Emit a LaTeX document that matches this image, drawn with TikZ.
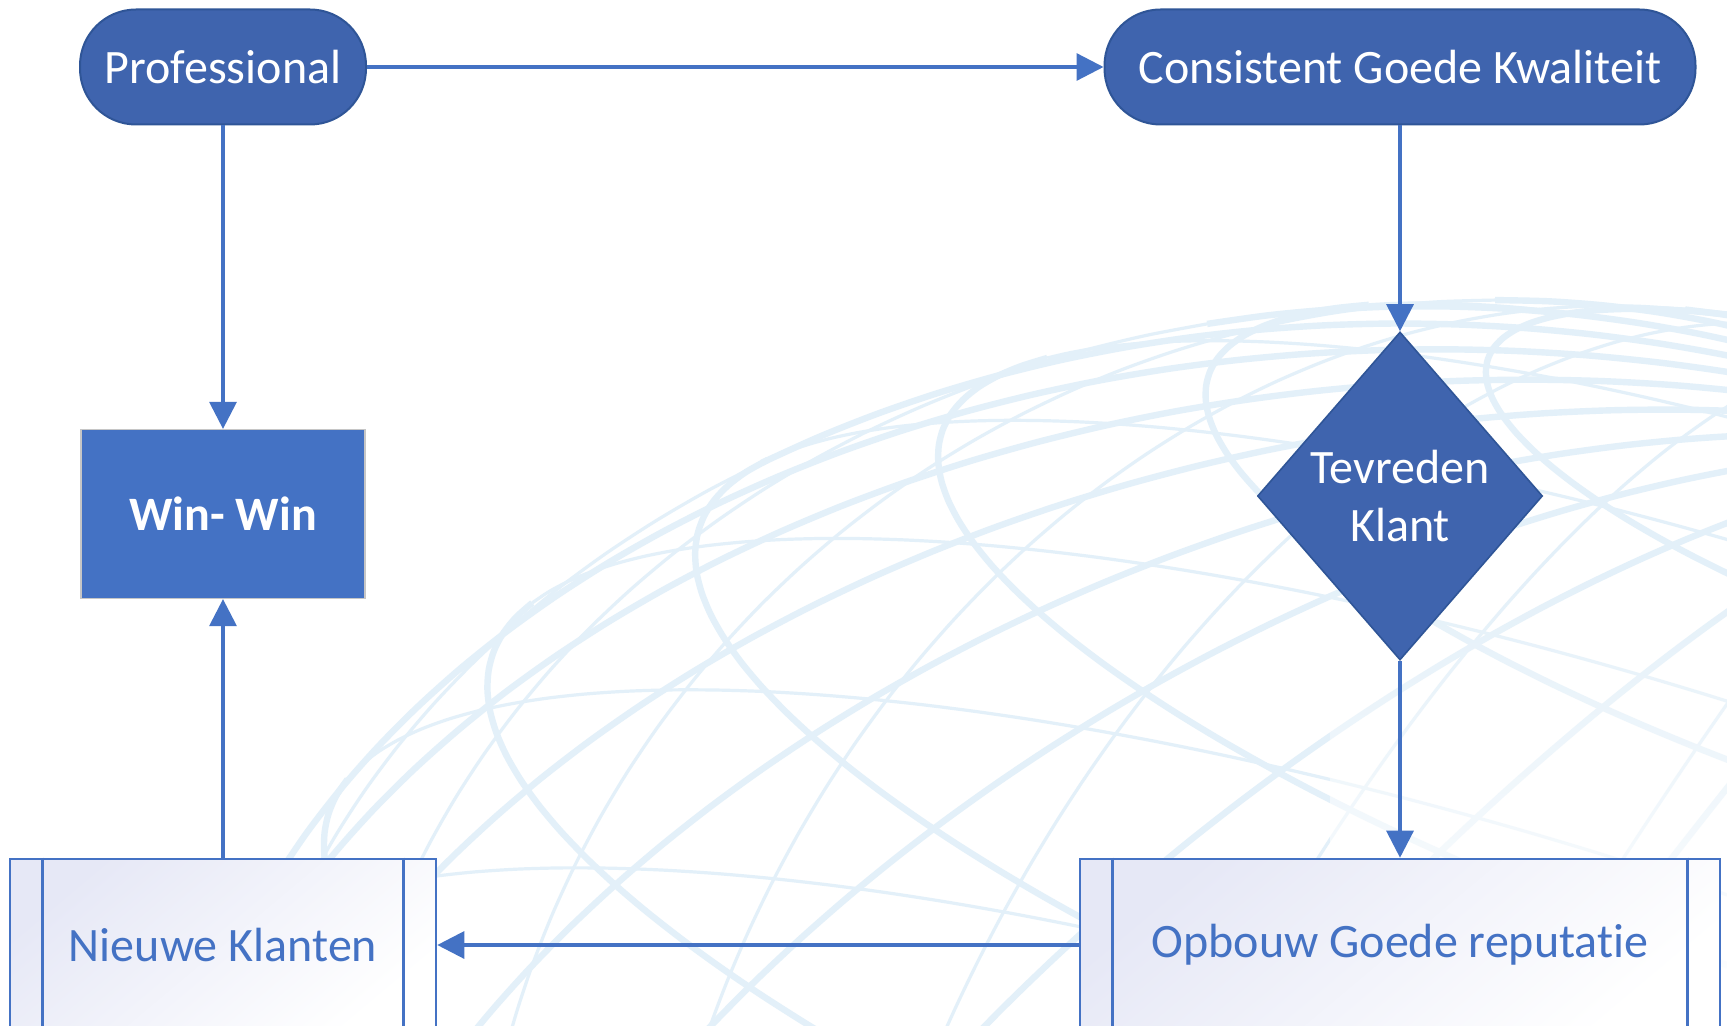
\documentclass[tikz,border=0pt]{standalone}
\usepackage{fontspec}
\setmainfont{Carlito}[Ligatures=NoCommon]
\usetikzlibrary{arrows.meta,shapes.geometric,fadings}
\definecolor{nodeblue}{HTML}{3F64AE}
\definecolor{nodeedge}{HTML}{2F5597}
\definecolor{accent}{HTML}{4472C4}
\definecolor{lav}{HTML}{E6E8F6}
\definecolor{globe}{HTML}{E3F0F9}
\tikzfading[name=fadeBR, top color=transparent!100, bottom color=transparent!0]
\begin{document}
\begin{tikzpicture}[x=0.5pt,y=-0.5pt,
  lbl/.style={font=\fontsize{24}{29}\selectfont},
  term/.style={lbl, draw=nodeedge, line width=1pt, fill=nodeblue, rounded corners=28pt,
    minimum height=57.5pt, text=white, inner sep=0pt},
  winbox/.style={draw=gray!45, line width=0.6pt, fill=accent, text=white,
    minimum width=142pt, minimum height=84.5pt, inner sep=0pt, font=\fontsize{24}{29}\selectfont\bfseries},
  decide/.style={lbl, diamond, draw=nodeedge, line width=0.8pt, fill=nodeblue, text=white,
    minimum width=142.5pt, minimum height=164pt, inner sep=0pt, align=center},
  procbox/.style={lbl, draw=accent, line width=1.3pt, top color=lav, middle color=white!97!lav, bottom color=white,
    shading angle=40, minimum height=86pt, text=accent, inner sep=0pt},
  procline/.style={accent, line width=1.3pt},
  conn/.style={accent, line width=1.6pt, -{Triangle[width=13.5pt,length=13.5pt]}},
  frontline/.style={globe, line width=3.2pt},
  backline/.style={globe, line width=1.6pt}
]
\useasboundingbox (0,0) rectangle (1727,1026);
\fill[white] (0,0) rectangle (1727,1026);

% decorative wire-frame globe (front arcs thick, back arcs thin)
\pgfmathsetmacro\cA{cos(20)}\pgfmathsetmacro\sA{sin(20)}
\pgfmathsetmacro\cB{cos(-25)}\pgfmathsetmacro\sB{sin(-25)}
\begin{scope}
\clip (0,0) rectangle (1727,1026);
\foreach \p in {-78,-66,...,78}{
  \pgfmathsetmacro\s{max(-0.995,min(0.995,-tan(\p)*\sA/\cA))}
  \pgfmathsetmacro\tz{asin(\s)}
  \pgfmathsetmacro\tf{180-\tz}
  \pgfmathsetmacro\tb{360+\tz}
  \draw[frontline] plot[domain=\tz:\tf, samples=60, variable=\t, smooth]
   ({1500+1350*(cos(\p)*cos(\t)*\cB - (sin(\p)*\cA - cos(\p)*sin(\t)*\sA)*\sB)},
    {1300-1000*(cos(\p)*cos(\t)*\sB + (sin(\p)*\cA - cos(\p)*sin(\t)*\sA)*\cB)});
  \draw[backline] plot[domain=\tf:\tb, samples=60, variable=\t, smooth]
   ({1500+1350*(cos(\p)*cos(\t)*\cB - (sin(\p)*\cA - cos(\p)*sin(\t)*\sA)*\sB)},
    {1300-1000*(cos(\p)*cos(\t)*\sB + (sin(\p)*\cA - cos(\p)*sin(\t)*\sA)*\cB)});
}
\foreach \l in {0,12,...,168}{
  \pgfmathsetmacro\dl{atan2(sin(\l)*\cA,\sA)}
  \pgfmathsetmacro\ta{-\dl}
  \pgfmathsetmacro\tf{180-\dl}
  \pgfmathsetmacro\tb{360-\dl}
  \draw[frontline] plot[domain=\ta:\tf, samples=60, variable=\t, smooth]
   ({1500+1350*(cos(\t)*cos(\l)*\cB - (sin(\t)*\cA - cos(\t)*sin(\l)*\sA)*\sB)},
    {1300-1000*(cos(\t)*cos(\l)*\sB + (sin(\t)*\cA - cos(\t)*sin(\l)*\sA)*\cB)});
  \draw[backline] plot[domain=\tf:\tb, samples=60, variable=\t, smooth]
   ({1500+1350*(cos(\t)*cos(\l)*\cB - (sin(\t)*\cA - cos(\t)*sin(\l)*\sA)*\sB)},
    {1300-1000*(cos(\t)*cos(\l)*\sB + (sin(\t)*\cA - cos(\t)*sin(\l)*\sA)*\cB)});
}
\fill[white, path fading=fadeBR] (1330,560) rectangle (1727,1026);
\end{scope}

% nodes
\node[term, minimum width=143pt] (prof) at (223,67) {Professional};
\node[term, minimum width=295.5pt] (cons) at (1400,67) {Consistent Goede Kwaliteit};
\node[winbox] (win) at (223,514) {Win- Win};
\node[decide] (diam) at (1400,496) {Tevreden\\Klant};
\node[procbox, minimum width=213pt] (nk) at (223,945) {Nieuwe Klanten};
\node[procbox, minimum width=320pt] (opb) at (1400,945) {Opbouw Goede reputatie};

\foreach \n in {nk,opb}{
  \draw[procline] ([xshift=17pt]\n.north west) -- ([xshift=17pt]\n.south west);
  \draw[procline] ([xshift=-17pt]\n.north east) -- ([xshift=-17pt]\n.south east);
}

% connectors
\draw[conn] (prof) -- (cons);
\draw[conn] (prof) -- (win);
\draw[conn] (cons) -- (diam);
\draw[conn] (diam) -- (opb);
\draw[conn] (opb) -- (nk);
\draw[conn] (nk) -- (win);
\end{tikzpicture}
\end{document}
